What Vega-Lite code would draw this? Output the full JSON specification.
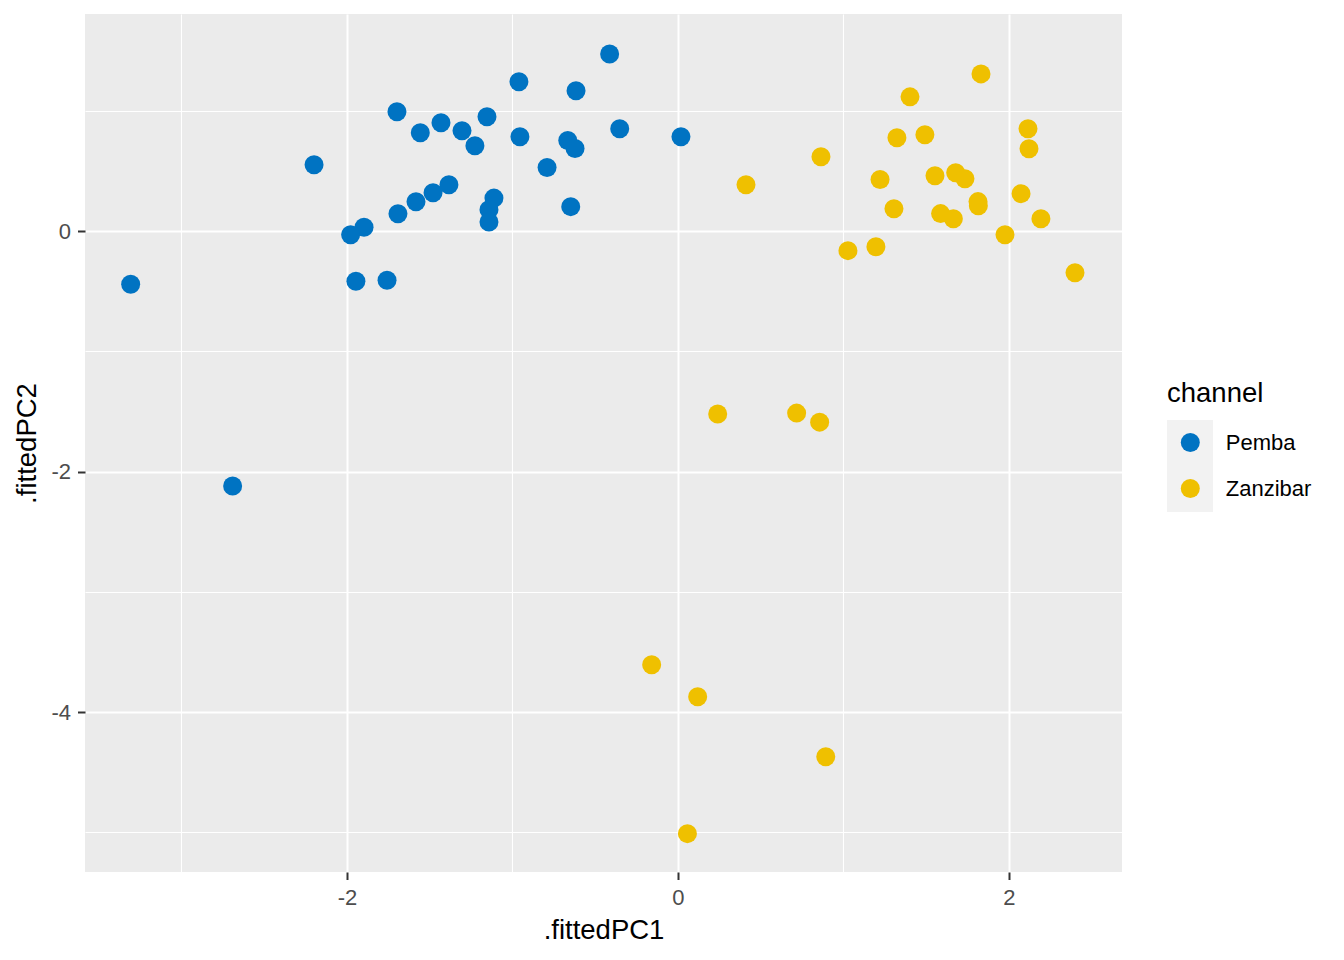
{
  "$schema": "https://vega.github.io/schema/vega-lite/v6.json",
  "width": 1037,
  "height": 858,
  "autosize": {"type": "none"},
  "padding": {"left": 85, "top": 14, "right": 222, "bottom": 88},
  "background": "white",
  "config": {
    "font": "Liberation Sans",
    "view": {"fill": "#EBEBEB", "stroke": null}
  },
  "data": {
    "values": [
      {"PC1": -0.413, "PC2": 1.473, "channel": "Pemba"},
      {"PC1": -0.961, "PC2": 1.241, "channel": "Pemba"},
      {"PC1": -0.616, "PC2": 1.166, "channel": "Pemba"},
      {"PC1": -1.698, "PC2": 0.992, "channel": "Pemba"},
      {"PC1": -1.557, "PC2": 0.817, "channel": "Pemba"},
      {"PC1": -1.432, "PC2": 0.9, "channel": "Pemba"},
      {"PC1": -1.305, "PC2": 0.834, "channel": "Pemba"},
      {"PC1": -1.154, "PC2": 0.95, "channel": "Pemba"},
      {"PC1": -1.227, "PC2": 0.709, "channel": "Pemba"},
      {"PC1": -0.955, "PC2": 0.784, "channel": "Pemba"},
      {"PC1": -0.666, "PC2": 0.753, "channel": "Pemba"},
      {"PC1": -0.622, "PC2": 0.687, "channel": "Pemba"},
      {"PC1": -0.352, "PC2": 0.85, "channel": "Pemba"},
      {"PC1": 0.018, "PC2": 0.784, "channel": "Pemba"},
      {"PC1": -0.791, "PC2": 0.529, "channel": "Pemba"},
      {"PC1": -0.648, "PC2": 0.203, "channel": "Pemba"},
      {"PC1": -2.199, "PC2": 0.551, "channel": "Pemba"},
      {"PC1": -1.384, "PC2": 0.385, "channel": "Pemba"},
      {"PC1": -1.48, "PC2": 0.319, "channel": "Pemba"},
      {"PC1": -1.583, "PC2": 0.244, "channel": "Pemba"},
      {"PC1": -1.692, "PC2": 0.144, "channel": "Pemba"},
      {"PC1": -1.112, "PC2": 0.274, "channel": "Pemba"},
      {"PC1": -1.142, "PC2": 0.178, "channel": "Pemba"},
      {"PC1": -1.142, "PC2": 0.075, "channel": "Pemba"},
      {"PC1": -1.897, "PC2": 0.031, "channel": "Pemba"},
      {"PC1": -1.978, "PC2": -0.03, "channel": "Pemba"},
      {"PC1": -1.946, "PC2": -0.418, "channel": "Pemba"},
      {"PC1": -1.758, "PC2": -0.409, "channel": "Pemba"},
      {"PC1": -3.307, "PC2": -0.443, "channel": "Pemba"},
      {"PC1": -2.691, "PC2": -2.12, "channel": "Pemba"},
      {"PC1": 1.831, "PC2": 1.307, "channel": "Zanzibar"},
      {"PC1": 1.402, "PC2": 1.116, "channel": "Zanzibar"},
      {"PC1": 2.115, "PC2": 0.85, "channel": "Zanzibar"},
      {"PC1": 2.121, "PC2": 0.684, "channel": "Zanzibar"},
      {"PC1": 1.323, "PC2": 0.776, "channel": "Zanzibar"},
      {"PC1": 1.492, "PC2": 0.801, "channel": "Zanzibar"},
      {"PC1": 0.864, "PC2": 0.618, "channel": "Zanzibar"},
      {"PC1": 0.411, "PC2": 0.385, "channel": "Zanzibar"},
      {"PC1": 1.221, "PC2": 0.429, "channel": "Zanzibar"},
      {"PC1": 1.553, "PC2": 0.46, "channel": "Zanzibar"},
      {"PC1": 1.678, "PC2": 0.485, "channel": "Zanzibar"},
      {"PC1": 1.734, "PC2": 0.435, "channel": "Zanzibar"},
      {"PC1": 2.073, "PC2": 0.311, "channel": "Zanzibar"},
      {"PC1": 1.305, "PC2": 0.186, "channel": "Zanzibar"},
      {"PC1": 1.587, "PC2": 0.145, "channel": "Zanzibar"},
      {"PC1": 1.664, "PC2": 0.103, "channel": "Zanzibar"},
      {"PC1": 1.813, "PC2": 0.245, "channel": "Zanzibar"},
      {"PC1": 1.815, "PC2": 0.21, "channel": "Zanzibar"},
      {"PC1": 2.193, "PC2": 0.103, "channel": "Zanzibar"},
      {"PC1": 1.976, "PC2": -0.03, "channel": "Zanzibar"},
      {"PC1": 1.027, "PC2": -0.163, "channel": "Zanzibar"},
      {"PC1": 1.196, "PC2": -0.13, "channel": "Zanzibar"},
      {"PC1": 2.399, "PC2": -0.346, "channel": "Zanzibar"},
      {"PC1": 0.24, "PC2": -1.522, "channel": "Zanzibar"},
      {"PC1": 0.717, "PC2": -1.514, "channel": "Zanzibar"},
      {"PC1": 0.856, "PC2": -1.589, "channel": "Zanzibar"},
      {"PC1": -0.159, "PC2": -3.607, "channel": "Zanzibar"},
      {"PC1": 0.119, "PC2": -3.873, "channel": "Zanzibar"},
      {"PC1": 0.893, "PC2": -4.371, "channel": "Zanzibar"},
      {"PC1": 0.057, "PC2": -5.011, "channel": "Zanzibar"}
    ]
  },
  "mark": {"type": "circle", "size": 361},
  "encoding": {
    "x": {
      "field": "PC1",
      "type": "quantitative",
      "title": ".fittedPC1",
      "scale": {"domain": [-3.583, 2.683], "nice": false, "zero": false},
      "axis": {
        "values": [-3, -2, -1, 0, 1, 2],
        "labelExpr": "datum.value % 2 === 0 ? '' + datum.value : ''",
        "grid": true,
        "gridColor": "white",
        "gridWidth": {"condition": {"test": "datum.value % 2 === 0", "value": 2}, "value": 1.1},
        "tickColor": {"condition": {"test": "datum.value % 2 === 0", "value": "#333333"}, "value": "transparent"},
        "tickSize": 7.5,
        "tickWidth": 2,
        "domain": false,
        "labelFontSize": 22,
        "labelColor": "#4D4D4D",
        "labelPadding": 8,
        "titleFontSize": 27.5,
        "titleFontWeight": "normal",
        "titleColor": "black",
        "titlePadding": 8
      }
    },
    "y": {
      "field": "PC2",
      "type": "quantitative",
      "title": ".fittedPC2",
      "scale": {"domain": [-5.33, 1.805], "nice": false, "zero": false},
      "axis": {
        "values": [-5, -4, -3, -2, -1, 0, 1],
        "labelExpr": "datum.value % 2 === 0 ? '' + datum.value : ''",
        "grid": true,
        "gridColor": "white",
        "gridWidth": {"condition": {"test": "datum.value % 2 === 0", "value": 2}, "value": 1.1},
        "tickColor": {"condition": {"test": "datum.value % 2 === 0", "value": "#333333"}, "value": "transparent"},
        "tickSize": 7.5,
        "tickWidth": 2,
        "domain": false,
        "labelFontSize": 22,
        "labelColor": "#4D4D4D",
        "labelPadding": 7,
        "titleFontSize": 27.5,
        "titleFontWeight": "normal",
        "titleColor": "black",
        "titlePadding": 9
      }
    },
    "color": {
      "field": "channel",
      "type": "nominal",
      "scale": {"domain": ["Pemba", "Zanzibar"], "range": ["#0073C2", "#EFC000"]},
      "legend": {
        "orient": "none",
        "legendX": 1082,
        "legendY": 366,
        "zindex": 2,
        "padding": 0,
        "title": "channel",
        "titleFontSize": 27.5,
        "titleFontWeight": "normal",
        "titleColor": "black",
        "titlePadding": 24,
        "symbolType": "circle",
        "symbolSize": 361,
        "symbolOpacity": 1,
        "symbolOffset": 12.3,
        "labelOffset": 24.5,
        "labelFontSize": 22,
        "labelColor": "black",
        "rowPadding": 24
      }
    },
    "opacity": {
      "field": "channel",
      "type": "ordinal",
      "scale": {"range": [1, 1]},
      "legend": {
        "orient": "none",
        "legendX": 1082,
        "legendY": 366,
        "zindex": 0,
        "padding": 0,
        "title": "channel",
        "titleFontSize": 27.5,
        "titleFontWeight": "normal",
        "titleColor": "transparent",
        "titlePadding": 12.5,
        "symbolType": "square",
        "symbolSize": 2116,
        "symbolFillColor": "#F2F2F2",
        "symbolStrokeColor": "#F2F2F2",
        "symbolStrokeWidth": 0,
        "symbolOffset": 0,
        "labelExpr": "''",
        "labelFontSize": 22,
        "rowPadding": 0
      }
    }
  }
}
